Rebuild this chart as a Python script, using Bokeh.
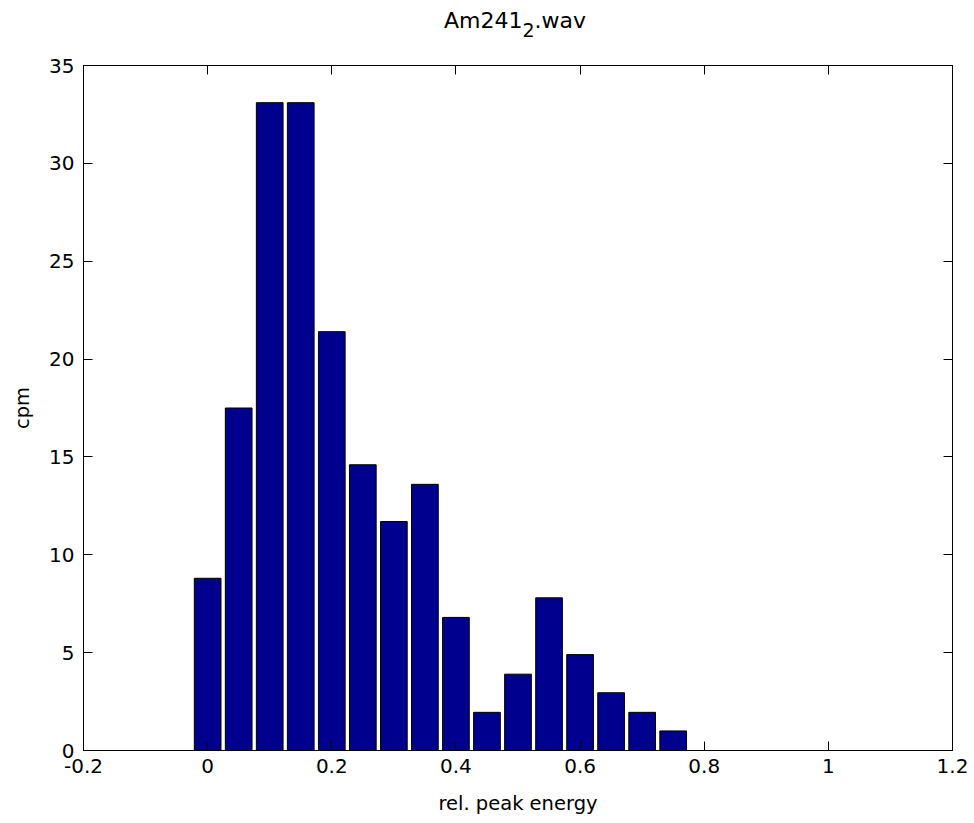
from bokeh.plotting import figure
from bokeh.models import LinearAxis, FixedTicker, Div
from bokeh.layouts import column
from bokeh.embed import file_html
from bokeh.resources import INLINE

# data
bin_centers = [0.0, 0.05, 0.10, 0.15, 0.20, 0.25, 0.30, 0.35, 0.40, 0.45, 0.50, 0.55, 0.60, 0.65, 0.70, 0.75]
cpm = [8.8, 17.5, 33.1, 33.1, 21.4, 14.6, 11.7, 13.6, 6.8, 1.95, 3.9, 7.8, 4.9, 2.95, 1.95, 1.0]
x_ticks = [-0.2, 0.0, 0.2, 0.4, 0.6, 0.8, 1.0, 1.2]
x_tick_labels = ["-0.2", "0", "0.2", "0.4", "0.6", "0.8", "1", "1.2"]
y_ticks = [0, 5, 10, 15, 20, 25, 30, 35]
title_main = "Am241"
title_sub = "2"
title_tail = ".wav"
x_label = "rel. peak energy"
y_label = "cpm"

FONT = "DejaVu Sans"

p = figure(width=974, height=778, x_range=(-0.2, 1.2), y_range=(0, 35),
           output_backend="svg", toolbar_location=None,
           min_border_left=83, min_border_right=22, min_border_top=20, min_border_bottom=73,
           x_axis_label=x_label, y_axis_label=y_label)

p.vbar(x=bin_centers, top=cpm, width=0.043, bottom=0,
       fill_color="#00008F", line_color="black", line_width=1)

p.xgrid.visible = False
p.ygrid.visible = False
p.outline_line_color = "black"
p.outline_line_width = 1
p.outline_line_alpha = 1
p.background_fill_color = "white"
p.border_fill_color = "white"

p.xaxis.ticker = FixedTicker(ticks=x_ticks)
p.xaxis.major_label_overrides = {t: s for t, s in zip(x_ticks, x_tick_labels)}
p.yaxis.ticker = FixedTicker(ticks=y_ticks)

for ax in (p.xaxis[0], p.yaxis[0]):
    ax.major_tick_in = 9
    ax.major_tick_out = 0
    ax.minor_tick_in = 0
    ax.minor_tick_out = 0
    ax.axis_line_color = "black"
    ax.major_tick_line_color = "black"
    ax.major_label_text_font = FONT
    ax.major_label_text_font_size = "20px"
    ax.major_label_text_color = "black"
    ax.axis_label_text_font = FONT
    ax.axis_label_text_font_size = "19.5px"
    ax.axis_label_text_font_style = "normal"
    ax.axis_label_text_color = "black"

p.xaxis.major_label_standoff = 8
p.yaxis.major_label_standoff = 9
p.xaxis.axis_label_standoff = 16
p.yaxis.axis_label_standoff = 12

# mirrored axes (ticks only) on top and right
top_ax = LinearAxis(ticker=FixedTicker(ticks=x_ticks), major_tick_in=9, major_tick_out=0,
                    minor_tick_in=0, minor_tick_out=0,
                    major_label_overrides={t: "" for t in x_ticks},
                    axis_line_color="black", major_tick_line_color="black")
right_ax = LinearAxis(ticker=FixedTicker(ticks=y_ticks), major_tick_in=9, major_tick_out=0,
                      minor_tick_in=0, minor_tick_out=0,
                      major_label_overrides={t: "" for t in y_ticks},
                      axis_line_color="black", major_tick_line_color="black")
p.add_layout(top_ax, "above")
p.add_layout(right_ax, "right")

# title with a real subscript
title_html = (
    '<div style="width:974px; box-sizing:border-box; text-align:center; padding-left:56px; '
    'padding-top:8px; font-family:\'DejaVu Sans\'; font-size:22px; line-height:26px; color:black;">'
    f'{title_main}<span style="font-size:19px; vertical-align:-9px;">{title_sub}</span>{title_tail}'
    '</div>'
)
title_div = Div(text=title_html, width=974, height=45, margin=(0, 0, 0, 0))

layout = column(title_div, p, spacing=0)

open("out.html", "w").write(file_html(layout, INLINE))
